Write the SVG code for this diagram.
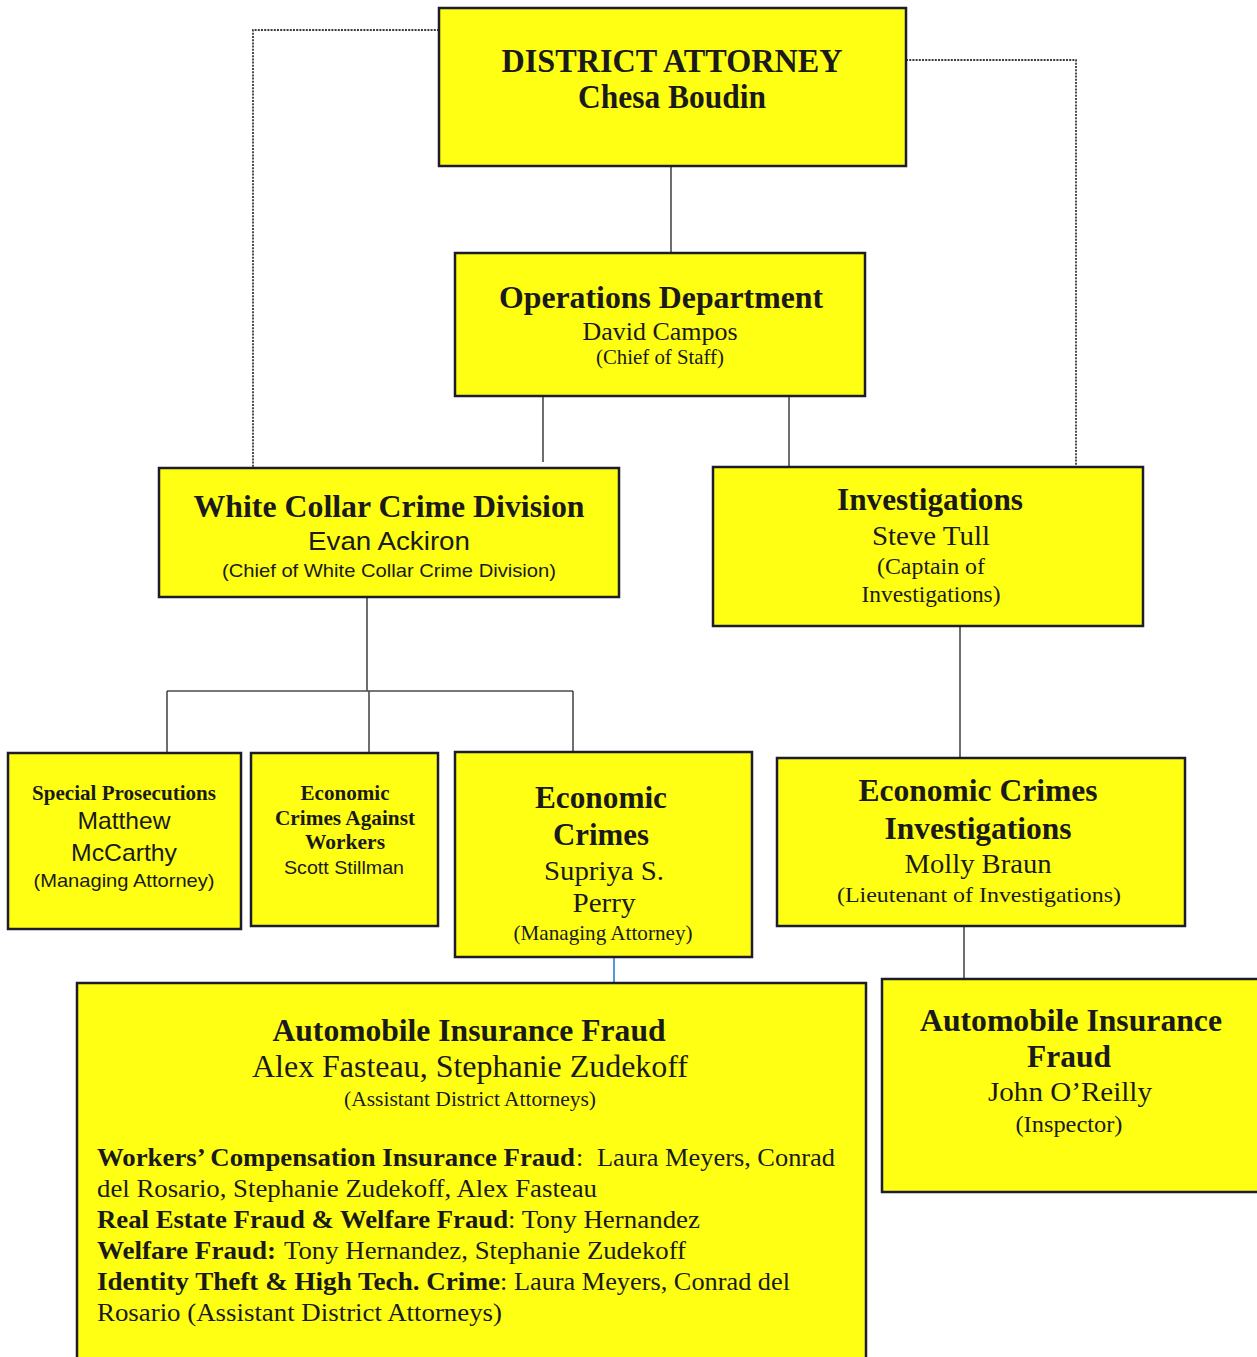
<svg xmlns="http://www.w3.org/2000/svg" width="1257" height="1357" viewBox="0 0 1257 1357">
<style>
.box{fill:#ffff14;stroke:#1c1c2a;stroke-width:2.5}
.ln{stroke:#4a4a4a;stroke-width:1.6;fill:none}
.dot{stroke:#3a3a3a;stroke-width:1.8;fill:none;stroke-dasharray:2 1.2}
.blue{stroke:#2a7fd0;stroke-width:1.6;fill:none}
text{fill:#1a1a1a;font-family:"Liberation Serif","Times New Roman",serif;text-anchor:middle}
.b{font-weight:bold}
.s{font-family:"Liberation Sans",Arial,sans-serif}
.l{text-anchor:start}
</style>
<rect width="1257" height="1357" fill="#ffffff"/>
<g id="connectors">
<polyline class="dot" points="439,30 253,30 253,467"/>
<polyline class="dot" points="906,60 1076,60 1076,466"/>
<line class="ln" x1="671" y1="166" x2="671" y2="253"/>
<line class="ln" x1="543" y1="396" x2="543" y2="462"/>
<line class="ln" x1="789" y1="396" x2="789" y2="467"/>
<line class="ln" x1="367" y1="597" x2="367" y2="691"/>
<line class="ln" x1="167" y1="691" x2="573" y2="691"/>
<line class="ln" x1="167" y1="691" x2="167" y2="753"/>
<line class="ln" x1="369" y1="691" x2="369" y2="753"/>
<line class="ln" x1="573" y1="691" x2="573" y2="752"/>
<line class="ln" x1="960" y1="626" x2="960" y2="758"/>
<line class="ln" x1="964" y1="926" x2="964" y2="979"/>
<line class="blue" x1="614" y1="957" x2="614" y2="983"/>
</g>
<g id="district-attorney">
<rect class="box" x="439" y="8" width="467" height="158"/>
<text class="b" x="672" y="72" font-size="33" textLength="341" lengthAdjust="spacingAndGlyphs">DISTRICT ATTORNEY</text>
<text class="b" x="672" y="108" font-size="33" textLength="188" lengthAdjust="spacingAndGlyphs">Chesa Boudin</text>
</g>
<g id="operations">
<rect class="box" x="455" y="253" width="410" height="143"/>
<text class="b" x="661" y="308" font-size="32" textLength="324" lengthAdjust="spacingAndGlyphs">Operations Department</text>
<text x="660" y="340" font-size="26" textLength="155" lengthAdjust="spacingAndGlyphs">David Campos</text>
<text x="660" y="364" font-size="20" textLength="128" lengthAdjust="spacingAndGlyphs">(Chief of Staff)</text>
</g>
<g id="white-collar">
<rect class="box" x="159" y="468" width="460" height="129"/>
<text class="b" x="389" y="517" font-size="31" textLength="391" lengthAdjust="spacingAndGlyphs">White Collar Crime Division</text>
<text class="s" x="389" y="550" font-size="26" textLength="162" lengthAdjust="spacingAndGlyphs">Evan Ackiron</text>
<text class="s" x="389" y="577" font-size="19" textLength="334" lengthAdjust="spacingAndGlyphs">(Chief of White Collar Crime Division)</text>
</g>
<g id="investigations">
<rect class="box" x="713" y="467" width="430" height="159"/>
<text class="b" x="930" y="510" font-size="31" textLength="186" lengthAdjust="spacingAndGlyphs">Investigations</text>
<text x="931" y="545" font-size="28" textLength="118" lengthAdjust="spacingAndGlyphs">Steve Tull</text>
<text x="931" y="574" font-size="23" textLength="108" lengthAdjust="spacingAndGlyphs">(Captain of</text>
<text x="931" y="602" font-size="23" textLength="139" lengthAdjust="spacingAndGlyphs">Investigations)</text>
</g>
<g id="special-prosecutions">
<rect class="box" x="8" y="753" width="233" height="176"/>
<text class="b" x="124" y="800" font-size="21" textLength="184" lengthAdjust="spacingAndGlyphs">Special Prosecutions</text>
<text class="s" x="124" y="829" font-size="24" textLength="93" lengthAdjust="spacingAndGlyphs">Matthew</text>
<text class="s" x="124" y="861" font-size="24" textLength="106" lengthAdjust="spacingAndGlyphs">McCarthy</text>
<text class="s" x="124" y="887" font-size="19" textLength="181" lengthAdjust="spacingAndGlyphs">(Managing Attorney)</text>
</g>
<g id="crimes-against-workers">
<rect class="box" x="251" y="753" width="187" height="173"/>
<text class="b" x="345" y="800" font-size="21" textLength="89" lengthAdjust="spacingAndGlyphs">Economic</text>
<text class="b" x="345" y="825" font-size="21" textLength="140" lengthAdjust="spacingAndGlyphs">Crimes Against</text>
<text class="b" x="345" y="849" font-size="21" textLength="80" lengthAdjust="spacingAndGlyphs">Workers</text>
<text class="s" x="344" y="874" font-size="19" textLength="120" lengthAdjust="spacingAndGlyphs">Scott Stillman</text>
</g>
<g id="economic-crimes">
<rect class="box" x="455" y="752" width="297" height="205"/>
<text class="b" x="601" y="808" font-size="32" textLength="132" lengthAdjust="spacingAndGlyphs">Economic</text>
<text class="b" x="601" y="845" font-size="32" textLength="96" lengthAdjust="spacingAndGlyphs">Crimes</text>
<text x="604" y="880" font-size="28" textLength="120" lengthAdjust="spacingAndGlyphs">Supriya S.</text>
<text x="604" y="912" font-size="28" textLength="63" lengthAdjust="spacingAndGlyphs">Perry</text>
<text x="603" y="940" font-size="21" textLength="179" lengthAdjust="spacingAndGlyphs">(Managing Attorney)</text>
</g>
<g id="economic-crimes-investigations">
<rect class="box" x="777" y="758" width="408" height="168"/>
<text class="b" x="978" y="801" font-size="32" textLength="239" lengthAdjust="spacingAndGlyphs">Economic Crimes</text>
<text class="b" x="978" y="839" font-size="32" textLength="187" lengthAdjust="spacingAndGlyphs">Investigations</text>
<text x="978" y="873" font-size="28" textLength="147" lengthAdjust="spacingAndGlyphs">Molly Braun</text>
<text x="979" y="902" font-size="22" textLength="284" lengthAdjust="spacingAndGlyphs">(Lieutenant of Investigations)</text>
</g>
<g id="auto-fraud-inspector">
<rect class="box" x="882" y="979" width="380" height="213"/>
<text class="b" x="1071" y="1031" font-size="31" textLength="302" lengthAdjust="spacingAndGlyphs">Automobile Insurance</text>
<text class="b" x="1069" y="1067" font-size="31" textLength="84" lengthAdjust="spacingAndGlyphs">Fraud</text>
<text x="1070" y="1101" font-size="28" textLength="164" lengthAdjust="spacingAndGlyphs">John O’Reilly</text>
<text x="1069" y="1132" font-size="23" textLength="107" lengthAdjust="spacingAndGlyphs">(Inspector)</text>
</g>
<g id="auto-fraud-attorneys">
<rect class="box" x="77" y="983" width="789" height="390"/>
<text class="b" x="469" y="1041" font-size="32" textLength="393" lengthAdjust="spacingAndGlyphs">Automobile Insurance Fraud</text>
<text x="470" y="1077" font-size="31" textLength="436" lengthAdjust="spacingAndGlyphs">Alex Fasteau, Stephanie Zudekoff</text>
<text x="470" y="1106" font-size="21" textLength="252" lengthAdjust="spacingAndGlyphs">(Assistant District Attorneys)</text>
<text class="l" font-size="26" y="1166"><tspan class="b" x="97" textLength="478" lengthAdjust="spacingAndGlyphs">Workers’ Compensation Insurance Fraud</tspan><tspan x="576">:</tspan><tspan x="597" textLength="238" lengthAdjust="spacingAndGlyphs">Laura Meyers, Conrad</tspan></text>
<text class="l" font-size="26" x="97" y="1197" textLength="500" lengthAdjust="spacingAndGlyphs">del Rosario, Stephanie Zudekoff, Alex Fasteau</text>
<text class="l" font-size="26" y="1228"><tspan class="b" x="97" textLength="411" lengthAdjust="spacingAndGlyphs">Real Estate Fraud &amp; Welfare Fraud</tspan><tspan x="508" textLength="192" lengthAdjust="spacingAndGlyphs">: Tony Hernandez</tspan></text>
<text class="l" font-size="26" y="1259"><tspan class="b" x="97" textLength="179" lengthAdjust="spacingAndGlyphs">Welfare Fraud:</tspan><tspan x="284" textLength="402" lengthAdjust="spacingAndGlyphs">Tony Hernandez, Stephanie Zudekoff</tspan></text>
<text class="l" font-size="26" y="1290"><tspan class="b" x="97" textLength="403" lengthAdjust="spacingAndGlyphs">Identity Theft &amp; High Tech. Crime</tspan><tspan x="500" textLength="290" lengthAdjust="spacingAndGlyphs">: Laura Meyers, Conrad del</tspan></text>
<text class="l" font-size="26" x="97" y="1321" textLength="405" lengthAdjust="spacingAndGlyphs">Rosario (Assistant District Attorneys)</text>
</g>
</svg>
